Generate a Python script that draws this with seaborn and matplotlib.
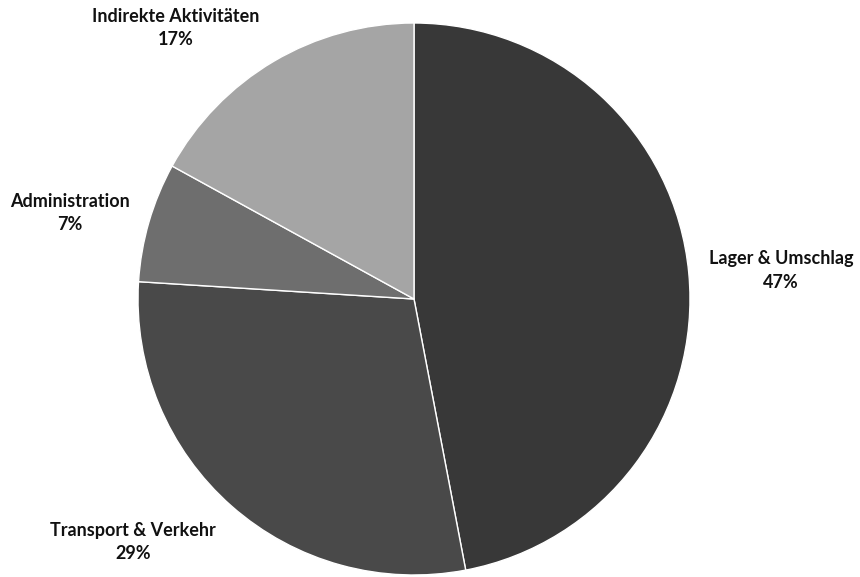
import matplotlib
matplotlib.use("Agg")
import matplotlib.pyplot as plt
import seaborn as sns

categories = ["Lager & Umschlag", "Transport & Verkehr", "Administration", "Indirekte Aktivitäten"]
values = [47, 29, 7, 17]
colors = ["#383838", "#494949", "#6e6e6e", "#a5a5a5"]
label_pos = [(1.33, 0.103), (-1.018, -0.88), (-1.246, 0.312), (-0.862, 0.982)]

sns.set_theme(style="white")
plt.rcParams['font.family'] = ['Lato', 'DejaVu Sans']

fig = plt.figure(figsize=(8.6, 5.77), dpi=100)
ax = fig.add_axes([138/860, 2/577, 552/860, 552/577])
wedges, _ = ax.pie(values, colors=colors, startangle=90, counterclock=False,
                   radius=1.0, wedgeprops=dict(edgecolor="white", linewidth=1.0))
ax.set_xlim(-1, 1)
ax.set_ylim(-1, 1)
ax.set_aspect("equal")
ax.axis("off")
ax.set_clip_on(False)

total = sum(values)
for cat, v, (x, y) in zip(categories, values, label_pos):
    ax.text(x, y, f"{cat}\n{round(100*v/total)}%", ha="center", va="center",
            fontsize=13, fontweight="bold", color="#111111", linespacing=1.45,
            clip_on=False)

fig.savefig("out.png", dpi=100)
